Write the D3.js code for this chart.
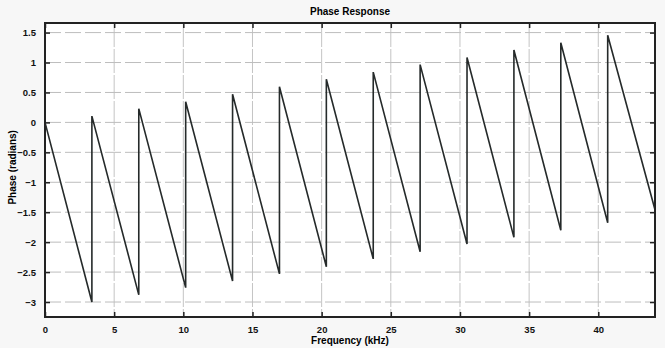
<!DOCTYPE html>
<html>
<head>
<meta charset="utf-8">
<script src="https://cdn.jsdelivr.net/npm/d3@7"></script>
<style>
  body { margin: 0; background: #f7f7f7; }
  text { font-family: "Liberation Sans", Arial, sans-serif; font-weight: bold; }
</style>
</head>
<body>
<div id="chart-area"></div>
<script>
/* dimensions */
const widthinput = 665;
const heightinput = 348;

var margin = { top: 23, right: 10, bottom: 31, left: 45 };
var width = widthinput - margin.left - margin.right,
    height = heightinput - margin.top - margin.bottom;

/* data: corner points of the wrapped phase */
var jumpFreq = [3.39, 6.78, 10.17, 13.56, 16.95, 20.34, 23.73, 27.12, 30.51, 33.9, 37.29, 40.68];
var lowPhase = [-3.0, -2.88, -2.76, -2.65, -2.53, -2.41, -2.28, -2.16, -2.03, -1.92, -1.8, -1.675];
var peakPhase = [0.105, 0.23, 0.345, 0.47, 0.595, 0.72, 0.84, 0.965, 1.085, 1.21, 1.33, 1.455];
var startPoint = [0, 0];
var endPoint = [44.1, -1.46];

var xTicks = [0, 5, 10, 15, 20, 25, 30, 35, 40];
var yTicks = [-3, -2.5, -2, -1.5, -1, -0.5, 0, 0.5, 1, 1.5];

var points = [startPoint];
jumpFreq.forEach((f, i) => {
  points.push([f, lowPhase[i]]);
  points.push([f, peakPhase[i]]);
});
points.push(endPoint);

var svg = d3.select("#chart-area")
  .append("svg")
    .attr("width", widthinput)
    .attr("height", heightinput);

var g = svg.append("g")
  .attr("transform", "translate(" + margin.left + ", " + margin.top + ")");

/* scales */
var x = d3.scaleLinear().domain([0, 44.1]).range([0, width]);
var y = d3.scaleLinear().domain([-3.25, 1.66]).range([height, 0]);

g.append("rect")
  .attr("width", width)
  .attr("height", height)
  .attr("fill", "#fff");

/* grid */
g.append("g")
  .selectAll("line.vg")
  .data(xTicks.slice(1))
  .enter().append("line")
    .attr("x1", d => x(d)).attr("x2", d => x(d))
    .attr("y1", 0).attr("y2", height)
    .attr("stroke", "#c4c4c4")
    .attr("stroke-width", 1)
    .attr("stroke-dasharray", "24,2");

g.append("g")
  .selectAll("line.hg")
  .data(yTicks)
  .enter().append("line")
    .attr("x1", 0).attr("x2", width)
    .attr("y1", d => y(d)).attr("y2", d => y(d))
    .attr("stroke", "#bdbdbd")
    .attr("stroke-width", 1)
    .attr("stroke-dasharray", "16,4");

/* phase line */
var line = d3.line().x(d => x(d[0])).y(d => y(d[1]));
g.append("path")
  .datum(points)
  .attr("d", line)
  .attr("fill", "none")
  .attr("stroke", "#252a2a")
  .attr("stroke-width", 1.6)
  .attr("stroke-linejoin", "miter");

/* axes, ticks drawn inward */
function styleAxis(sel) {
  sel.select(".domain").remove();
  sel.selectAll(".tick line").attr("stroke", "#222").attr("stroke-width", 1.5);
  sel.selectAll(".tick text").attr("fill", "#111").style("font-size", "9.5px");
}

g.append("g")
  .attr("transform", "translate(0, " + height + ")")
  .call(d3.axisBottom(x).tickValues(xTicks).tickSizeInner(-5).tickPadding(9).tickFormat(d3.format("d")))
  .call(styleAxis);

g.append("g")
  .call(d3.axisTop(x).tickValues(xTicks).tickSizeInner(-5).tickFormat(""))
  .call(styleAxis);

g.append("g")
  .call(d3.axisLeft(y).tickValues(yTicks).tickSizeInner(-5).tickPadding(9).tickFormat(d3.format("")))
  .call(styleAxis);

g.append("g")
  .attr("transform", "translate(" + width + ", 0)")
  .call(d3.axisRight(y).tickValues(yTicks).tickSizeInner(-5).tickFormat(""))
  .call(styleAxis);

/* frame */
g.append("rect")
  .attr("width", width)
  .attr("height", height)
  .attr("fill", "none")
  .attr("stroke", "#222")
  .attr("stroke-width", 2);

/* labels */
g.append("text")
  .attr("x", width / 2)
  .attr("y", -8)
  .attr("text-anchor", "middle")
  .style("font-size", "10px")
  .text("Phase Response");

g.append("text")
  .attr("x", width / 2)
  .attr("y", height + 27)
  .attr("text-anchor", "middle")
  .style("font-size", "10px")
  .text("Frequency (kHz)");

g.append("text")
  .attr("x", -y(-0.75))
  .attr("y", -29)
  .attr("text-anchor", "middle")
  .attr("transform", "rotate(-90)")
  .style("font-size", "10px")
  .text("Phase (radians)");
</script>
</body>
</html>
